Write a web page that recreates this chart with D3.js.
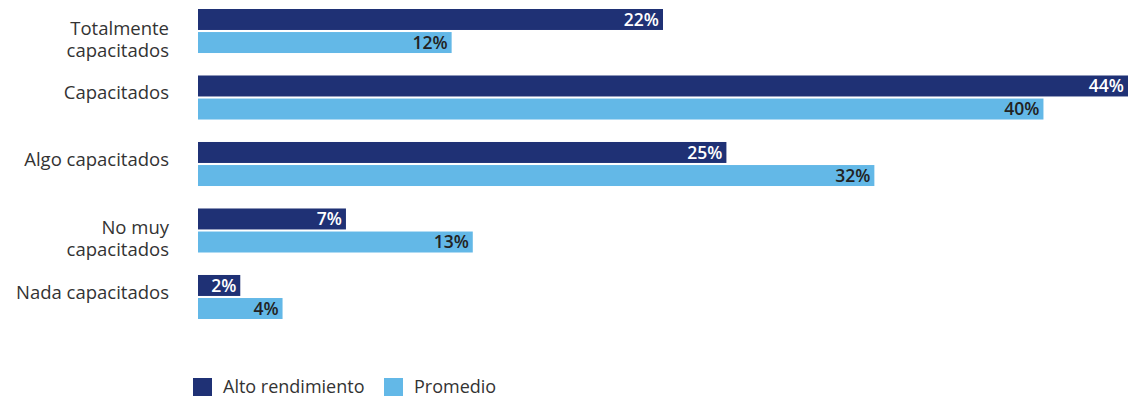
<!DOCTYPE html>
<html>
<head>
<meta charset="utf-8">
<script src="https://cdn.jsdelivr.net/npm/d3@7"></script>
<style>
  html, body { margin: 0; padding: 0; background: #fff; }
  svg { display: block; font-family: "Open Sans", "Noto Sans", sans-serif; }
</style>
</head>
<body>
<svg id="chart" width="1131" height="398"></svg>
<script>
// Category labels (each entry is a list of lines)
const categories = [
  ["Totalmente", "capacitados"],
  ["Capacitados"],
  ["Algo capacitados"],
  ["No muy", "capacitados"],
  ["Nada capacitados"]
];
const seriesNames = ["Alto rendimiento", "Promedio"];
const altoRendimiento = [22, 44, 25, 7, 2];
const promedio = [12, 40, 32, 13, 4];

const colors = { "Alto rendimiento": "#1f3175", "Promedio": "#63b8e7" };
const labelColors = { "Alto rendimiento": "#ffffff", "Promedio": "#222222" };

const svg = d3.select("#chart");
const catKeys = categories.map(c => c.join(" "));

const x = d3.scaleLinear().domain([0, 44]).range([198, 1128]);
const y = d3.scaleBand().domain(catKeys).range([9, 319]).paddingInner(0.338).paddingOuter(0);
const ySub = d3.scaleBand().domain(seriesNames).range([0, y.bandwidth()]).paddingInner(0.09);

const rows = catKeys.map((k, i) => ({
  key: k,
  lines: categories[i],
  values: [
    { series: seriesNames[0], value: altoRendimiento[i] },
    { series: seriesNames[1], value: promedio[i] }
  ]
}));

const groups = svg.selectAll("g.group").data(rows).join("g")
  .attr("class", "group")
  .attr("transform", d => `translate(0,${y(d.key)})`);

groups.selectAll("rect").data(d => d.values).join("rect")
  .attr("x", x(0))
  .attr("y", d => ySub(d.series))
  .attr("width", d => x(d.value) - x(0))
  .attr("height", ySub.bandwidth())
  .attr("fill", d => colors[d.series]);

groups.selectAll("text.val").data(d => d.values).join("text")
  .attr("class", "val")
  .attr("x", d => x(d.value) - 4)
  .attr("y", d => ySub(d.series) + ySub.bandwidth() / 2)
  .attr("dy", "0.37em")
  .attr("text-anchor", "end")
  .attr("font-size", 17.5)
  .attr("font-weight", 600)
  .attr("fill", d => labelColors[d.series])
  .text(d => d.value + "%");

// Category labels
const catText = groups.append("text")
  .attr("class", "cat")
  .attr("text-anchor", "end")
  .attr("font-size", 18.5)
  .attr("fill", "#333333");
catText.each(function(d) {
  const t = d3.select(this);
  const mid = y.bandwidth() / 2;
  const start = d.lines.length > 1 ? mid + 3.5 : mid + 2;
  d.lines.forEach((line, j) => {
    t.append("tspan")
      .attr("x", 169)
      .attr("y", start + j * 22)
      .text(line);
  });
});

// Legend
const legendX = [193, 384];
const legend = svg.selectAll("g.legend").data(seriesNames).join("g")
  .attr("class", "legend")
  .attr("transform", (d, i) => `translate(${legendX[i]},378)`);
legend.append("rect")
  .attr("width", 19).attr("height", 18)
  .attr("fill", d => colors[d]);
legend.append("text")
  .attr("x", 30).attr("y", 14.5)
  .attr("font-size", 18)
  .attr("fill", "#333333")
  .text(d => d);
</script>
</body>
</html>
